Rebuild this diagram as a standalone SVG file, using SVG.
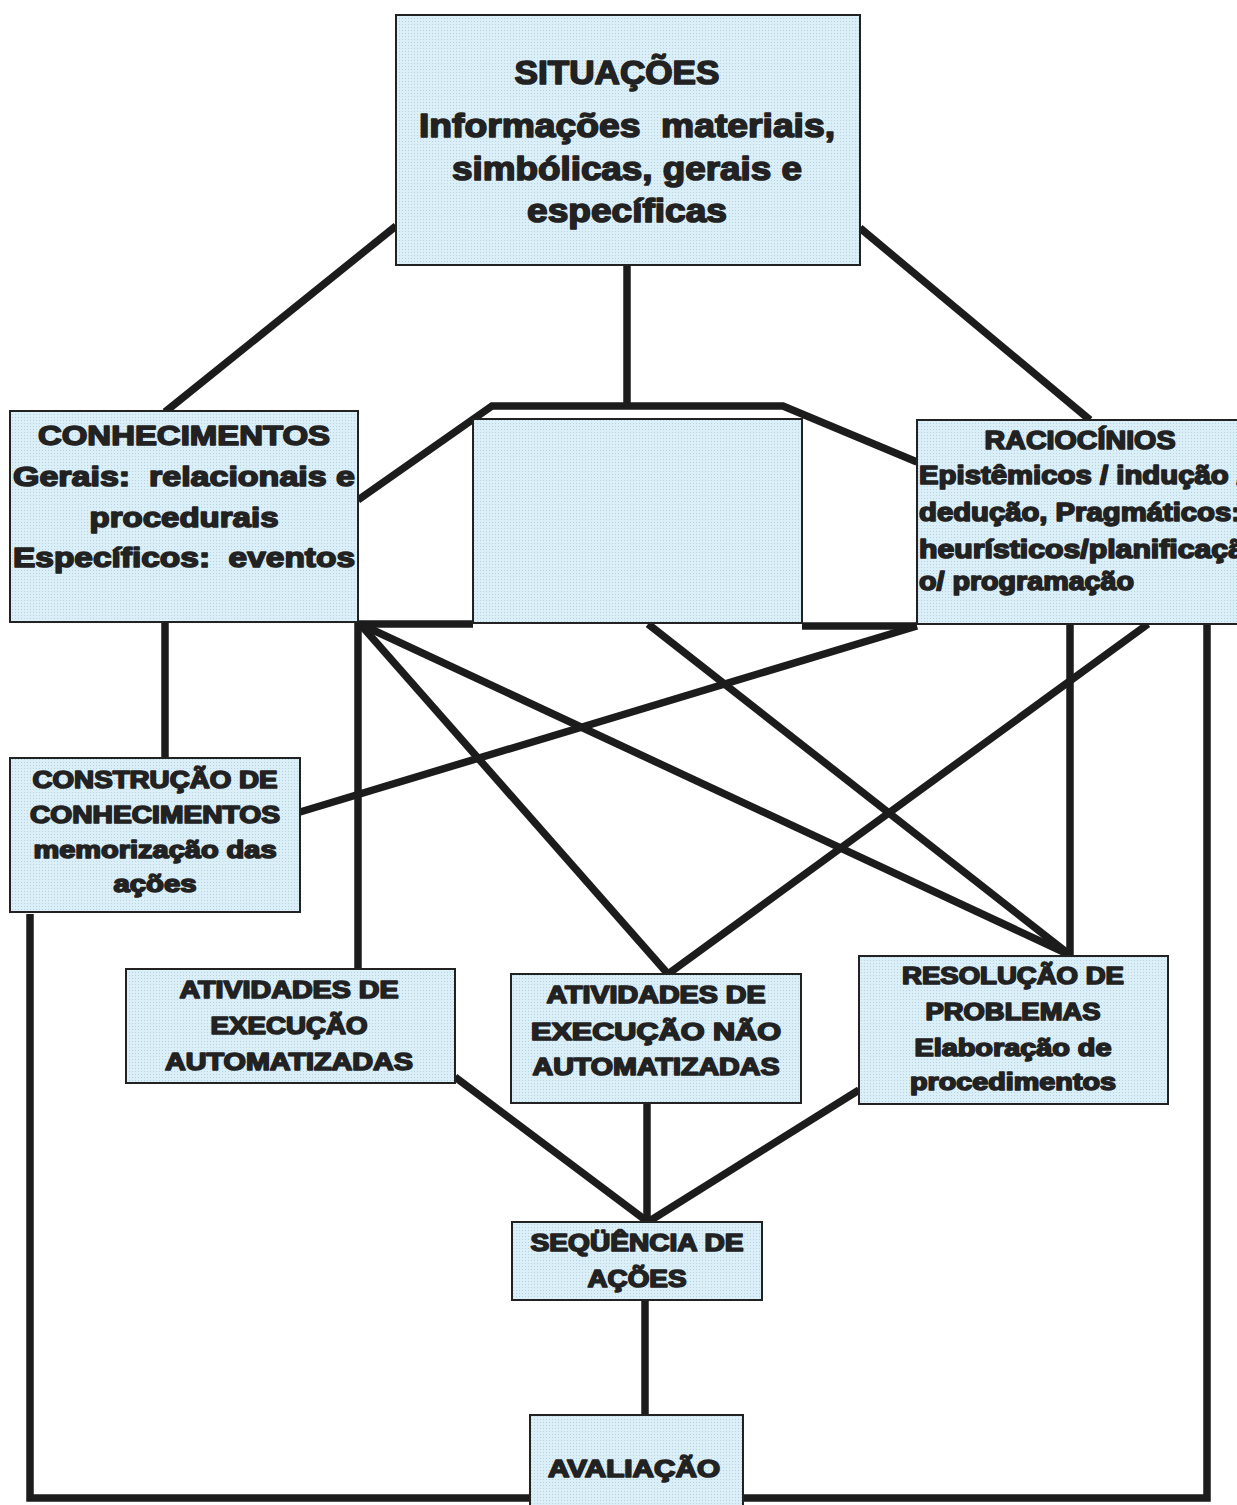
<svg xmlns="http://www.w3.org/2000/svg" width="1237" height="1505" viewBox="0 0 1237 1505">
  <defs>
    <!-- light blue card fill with a fine dot screen -->
    <pattern id="screen" width="3" height="3" patternUnits="userSpaceOnUse">
      <rect width="3" height="3" fill="#dbeff8"/>
      <rect x="0" y="0" width="1" height="1" fill="#b9d3de"/>
    </pattern>
  </defs>
  <style>
    .box { fill: url(#screen); stroke: #222; stroke-width: 2; }
    .link { fill: none; stroke: #1c1c1c; stroke-width: 7.5; stroke-linecap: butt; stroke-linejoin: miter; }
    text { font-family: "Liberation Sans", Arial, sans-serif; font-weight: bold; fill: #222; stroke: #222; stroke-width: 1.6; stroke-linejoin: round; }
    .c { text-anchor: middle; }
    .s32 { font-size: 33px; }
    .s28 { font-size: 28px; }
    .s25 { font-size: 25px; }
    .s23 { font-size: 23px; }
  </style>
  <rect width="1237" height="1505" fill="#ffffff"/>

  <!-- connectors -->
  <g id="connectors">
    <line class="link" x1="396" y1="226" x2="165" y2="412"/>
    <line class="link" x1="627" y1="265" x2="627" y2="406"/>
    <polyline class="link" points="358,500 492,406 783,406 917,462"/>
    <line class="link" x1="860" y1="228" x2="1090" y2="420"/>
    <line class="link" x1="165" y1="622" x2="165" y2="758"/>
    <line class="link" x1="356" y1="624" x2="473" y2="624"/>
    <line class="link" x1="802" y1="626" x2="917" y2="626"/>
    <line class="link" x1="358" y1="622" x2="358" y2="969"/>
    <line class="link" x1="360" y1="624" x2="668" y2="974"/>
    <line class="link" x1="360" y1="624" x2="1070" y2="955"/>
    <line class="link" x1="648" y1="624" x2="1070" y2="955"/>
    <line class="link" x1="917" y1="626" x2="300" y2="812"/>
    <line class="link" x1="1148" y1="624" x2="668" y2="974"/>
    <line class="link" x1="1070" y1="624" x2="1070" y2="956"/>
    <polyline class="link" points="1207,624 1207,1498 743,1498"/>
    <polyline class="link" points="30,914 30,1498 530,1498"/>
    <line class="link" x1="455" y1="1077" x2="648" y2="1222"/>
    <line class="link" x1="647" y1="1104" x2="647" y2="1222"/>
    <line class="link" x1="859" y1="1090" x2="648" y2="1222"/>
    <line class="link" x1="645" y1="1300" x2="645" y2="1415"/>
  </g>

  <g id="situacoes">
    <rect class="box" x="396" y="15" width="464" height="250"/>
    <text class="c s32" x="617" y="84" textLength="205" lengthAdjust="spacingAndGlyphs">SITUAÇÕES</text>
    <text class="c s32" x="627" y="137" textLength="416" lengthAdjust="spacingAndGlyphs" xml:space="preserve">Informações  materiais,</text>
    <text class="c s32" x="627" y="180" textLength="350" lengthAdjust="spacingAndGlyphs">simbólicas, gerais e</text>
    <text class="c s32" x="627" y="222" textLength="200" lengthAdjust="spacingAndGlyphs">específicas</text>
  </g>

  <g id="conhecimentos">
    <rect class="box" x="10" y="411" width="348" height="211"/>
    <text class="c s28" x="184" y="445" textLength="292" lengthAdjust="spacingAndGlyphs">CONHECIMENTOS</text>
    <text class="s28" x="13" y="486" textLength="342" lengthAdjust="spacingAndGlyphs" xml:space="preserve">Gerais:  relacionais e</text>
    <text class="c s28" x="184" y="527" textLength="189" lengthAdjust="spacingAndGlyphs">procedurais</text>
    <text class="s28" x="13" y="567" textLength="342" lengthAdjust="spacingAndGlyphs" xml:space="preserve">Específicos:  eventos</text>
  </g>

  <g id="centro">
    <rect class="box" x="473" y="419" width="329" height="204"/>
  </g>

  <g id="raciocinios">
    <rect class="box" x="917" y="420" width="330" height="204"/>
    <text class="c s25" x="1080" y="449" textLength="191" lengthAdjust="spacingAndGlyphs">RACIOCÍNIOS</text>
    <text class="s25" x="919" y="484" textLength="326" lengthAdjust="spacingAndGlyphs">Epistêmicos / indução /</text>
    <text class="s25" x="919" y="521" textLength="322" lengthAdjust="spacingAndGlyphs">dedução, Pragmáticos:</text>
    <text class="s25" x="919" y="558" textLength="326" lengthAdjust="spacingAndGlyphs">heurísticos/planificaçã</text>
    <text class="s25" x="919" y="590" textLength="215" lengthAdjust="spacingAndGlyphs">o/ programação</text>
  </g>

  <g id="construcao">
    <rect class="box" x="10" y="758" width="290" height="154"/>
    <text class="c s23" x="155" y="788" textLength="245" lengthAdjust="spacingAndGlyphs">CONSTRUÇÃO DE</text>
    <text class="c s23" x="155" y="823" textLength="250" lengthAdjust="spacingAndGlyphs">CONHECIMENTOS</text>
    <text class="c s23" x="155" y="858" textLength="243" lengthAdjust="spacingAndGlyphs">memorização das</text>
    <text class="c s23" x="155" y="892" textLength="83" lengthAdjust="spacingAndGlyphs">ações</text>
  </g>

  <g id="automatizadas">
    <rect class="box" x="126" y="969" width="329" height="114"/>
    <text class="c s23" x="289" y="998" textLength="219" lengthAdjust="spacingAndGlyphs">ATIVIDADES DE</text>
    <text class="c s23" x="289" y="1034" textLength="157" lengthAdjust="spacingAndGlyphs">EXECUÇÃO</text>
    <text class="c s23" x="289" y="1070" textLength="248" lengthAdjust="spacingAndGlyphs">AUTOMATIZADAS</text>
  </g>

  <g id="nao-automatizadas">
    <rect class="box" x="511" y="974" width="290" height="129"/>
    <text class="c s23" x="656" y="1003" textLength="219" lengthAdjust="spacingAndGlyphs">ATIVIDADES DE</text>
    <text class="c s23" x="656" y="1040" textLength="250" lengthAdjust="spacingAndGlyphs">EXECUÇÃO NÃO</text>
    <text class="c s23" x="656" y="1075" textLength="247" lengthAdjust="spacingAndGlyphs">AUTOMATIZADAS</text>
  </g>

  <g id="resolucao">
    <rect class="box" x="859" y="956" width="309" height="148"/>
    <text class="c s23" x="1013" y="984" textLength="222" lengthAdjust="spacingAndGlyphs">RESOLUÇÃO DE</text>
    <text class="c s23" x="1013" y="1020" textLength="175" lengthAdjust="spacingAndGlyphs">PROBLEMAS</text>
    <text class="c s23" x="1013" y="1056" textLength="197" lengthAdjust="spacingAndGlyphs">Elaboração de</text>
    <text class="c s23" x="1013" y="1090" textLength="206" lengthAdjust="spacingAndGlyphs">procedimentos</text>
  </g>

  <g id="sequencia">
    <rect class="box" x="512" y="1222" width="250" height="78"/>
    <text class="c s23" x="637" y="1251" textLength="213" lengthAdjust="spacingAndGlyphs">SEQÜÊNCIA DE</text>
    <text class="c s23" x="637" y="1287" textLength="99" lengthAdjust="spacingAndGlyphs">AÇÕES</text>
  </g>

  <g id="avaliacao">
    <rect class="box" x="530" y="1415" width="213" height="100"/>
    <text class="c s23" x="634" y="1477" textLength="172" lengthAdjust="spacingAndGlyphs">AVALIAÇÃO</text>
  </g>
</svg>
